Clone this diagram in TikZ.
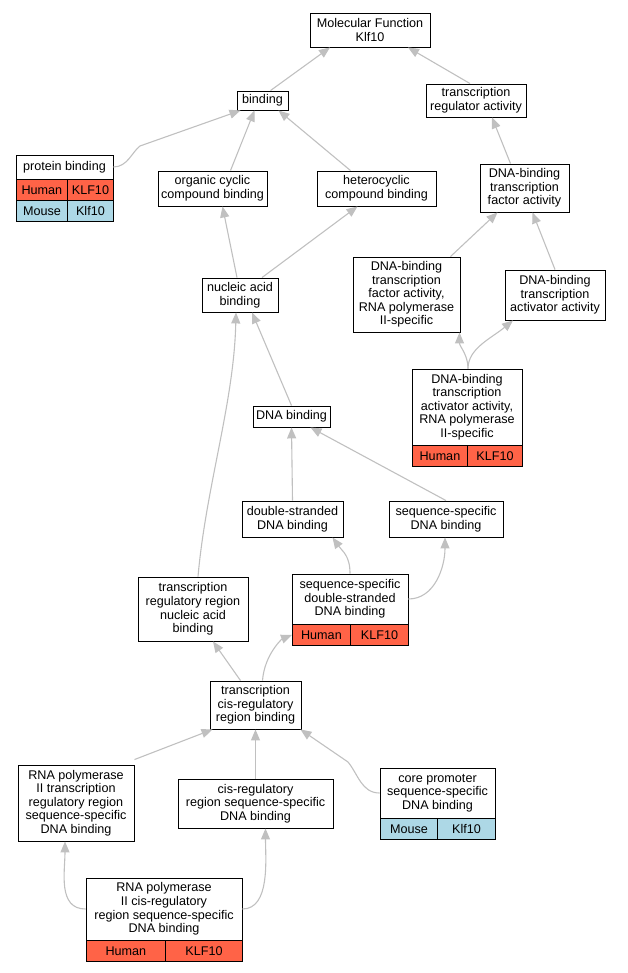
\documentclass[tikz,border=0pt]{standalone}
\usepackage{fontspec}
\setmainfont{Liberation Sans}
\usepackage{tikz}
\usetikzlibrary{arrows.meta}
\definecolor{human}{HTML}{FF6347}
\definecolor{mouse}{HTML}{ADD8E6}
\definecolor{edgegray}{HTML}{C0C0C0}
\newcommand\gofont{\fontsize{12.6}{13.6}\selectfont}
\def\gonode{\node[term]}
\def\humancell{\node[cell,fill=human]}
\def\mousecell{\node[cell,fill=mouse]}
\def\drawisa{\draw[isa]}

\begin{document}
\begin{tikzpicture}[x=1pt,y=-1pt,
  term/.style={draw,fill=white,line width=0.9pt,align=center,inner sep=1pt,font=\gofont},
  cell/.style={draw,line width=0.9pt,inner sep=0pt,anchor=north west,font=\gofont,minimum height=21},
  isa/.style={draw=edgegray,line width=1.1pt,-{Triangle[length=11pt,width=9pt,fill=edgegray]}}]
\useasboundingbox (0,0) rectangle (628,973);
\gonode[minimum width=120,minimum height=34] (mf) at (370,30) {Molecular Function\\Klf10};
\gonode[minimum width=51,minimum height=19] (bind) at (262.5,100.5) {binding};
\gonode[minimum width=100,minimum height=33] (tra) at (476,100.5) {transcription\\regulator activity};
\gonode[minimum width=97,minimum height=24] (pb) at (64.5,167) {protein binding};
\humancell[minimum width=51] (pbh) at (16,179) {Human};
\humancell[minimum width=46] (pbhg) at (67,179) {KLF10};
\mousecell[minimum width=51] (pbm) at (16,200) {Mouse};
\mousecell[minimum width=46] (pbmg) at (67,200) {Klf10};
\gonode[minimum width=109,minimum height=35] (occ) at (212.5,188.5) {organic cyclic\\compound binding};
\gonode[minimum width=119,minimum height=35] (het) at (376.5,188.5) {heterocyclic\\compound binding};
\gonode[minimum width=89,minimum height=48] (dtfa) at (524.5,188) {DNA-binding\\transcription\\factor activity};
\gonode[minimum width=76,minimum height=34] (nab) at (240,295) {nucleic acid\\binding};
\gonode[minimum width=107,minimum height=75] (dtf2) at (406.5,294.5) {DNA-binding\\transcription\\factor activity,\\RNA polymerase\\II-specific};
\gonode[minimum width=100,minimum height=50] (dtaa) at (555,295) {DNA-binding\\transcription\\activator activity};
\gonode[minimum width=77,minimum height=21] (dnab) at (291.5,416.5) {DNA binding};
\gonode[minimum width=110,minimum height=76] (dta2) at (467,407) {DNA-binding\\transcription\\activator activity,\\RNA polymerase\\II-specific};
\humancell[minimum width=55] (dta2h) at (412,445) {Human};
\humancell[minimum width=55] (dta2g) at (467,445) {KLF10};
\gonode[minimum width=101,minimum height=36] (dsdb) at (292.5,519) {double-stranded\\DNA binding};
\gonode[minimum width=114,minimum height=36] (ssdb) at (446,519) {sequence-specific\\DNA binding};
\gonode[minimum width=110,minimum height=64] (trr) at (193,609) {transcription\\regulatory region\\nucleic acid\\binding};
\gonode[minimum width=116,minimum height=50] (ssds) at (350,599) {sequence-specific\\double-stranded\\DNA binding};
\humancell[minimum width=58] (ssdsh) at (292,624) {Human};
\humancell[minimum width=58] (ssdsg) at (350,624) {KLF10};
\gonode[minimum width=91,minimum height=48] (tcrb) at (255.5,705) {transcription\\cis-regulatory\\region binding};
\gonode[minimum width=116,minimum height=76] (r2) at (76,803) {RNA polymerase\\II transcription\\regulatory region\\sequence-specific\\DNA binding};
\gonode[minimum width=155,minimum height=49] (crss) at (255.5,803.5) {cis-regulatory\\region sequence-specific\\DNA binding};
\gonode[minimum width=115,minimum height=50] (core) at (437.5,793) {core promoter\\sequence-specific\\DNA binding};
\mousecell[minimum width=57] (corem) at (380,818) {Mouse};
\mousecell[minimum width=58] (coreg) at (437,818) {Klf10};
\gonode[minimum width=156,minimum height=62] (r2cis) at (164,909) {RNA polymerase\\II cis-regulatory\\region sequence-specific\\DNA binding};
\humancell[minimum width=79] (r2cish) at (86,940) {Human};
\humancell[minimum width=77] (r2cisg) at (165,940) {KLF10};
\drawisa ([xshift=8]bind.north) -- ([xshift=-40]mf.south);
\drawisa ([xshift=-6]tra.north) -- ([xshift=38]mf.south);
\drawisa (pb.east) .. controls +(14,0) and +(-8,6) .. (140,146) -- ([xshift=-22]bind.south);
\drawisa ([xshift=18]occ.north) -- ([xshift=-8]bind.south);
\drawisa ([xshift=-26]het.north) -- ([xshift=16]bind.south);
\drawisa ([xshift=-14]dtfa.north) -- ([xshift=16]tra.south);
\drawisa ([xshift=-3]nab.north) -- ([xshift=10]occ.south);
\drawisa ([xshift=22]nab.north) -- ([xshift=-19]het.south);
\drawisa ([xshift=44]dtf2.north) -- ([xshift=-27]dtfa.south);
\drawisa (dtaa.north) -- ([xshift=8]dtfa.south);
\drawisa (dnab.north) -- ([xshift=12]nab.south);
\drawisa ([xshift=1]dta2.north) .. controls +(0,-14) and +(0,14) .. ([xshift=53]dtf2.south);
\drawisa ([xshift=1]dta2.north) .. controls +(0,-20) and +(-22,18) .. ([xshift=-42]dtaa.south);
\drawisa (dsdb.north) -- (dnab.south);
\drawisa (ssdb.north) -- ([xshift=19]dnab.south);
\drawisa ([xshift=5]trr.north) .. controls +(8,-90) and +(-2,90) .. ([xshift=-4]nab.south);
\drawisa (ssds.north) .. controls +(0,-18) and +(10,14) .. ([xshift=40]dsdb.south);
\drawisa (ssds.east) .. controls +(26,0) and +(0,30) .. ([xshift=-1]ssdb.south);
\drawisa ([xshift=-15]tcrb.north) -- ([xshift=20]trr.south);
\drawisa ([xshift=7]tcrb.north) .. controls +(2,-26) and +(-10,4) .. (ssdsh.west);
\drawisa ([yshift=5]r2.north east) -- ([xshift=-43]tcrb.south);
\drawisa (crss.north) -- (tcrb.south);
\drawisa (core.west) .. controls +(-18,0) and +(10,12) .. (348,762) -- ([xshift=-1]tcrb.south east);
\drawisa (r2cis.west) .. controls +(-28,0) and +(0,30) .. ([xshift=-11]r2.south);
\drawisa (r2cis.east) .. controls +(28,0) and +(0,30) .. ([xshift=10]crss.south);
\end{tikzpicture}
\end{document}
